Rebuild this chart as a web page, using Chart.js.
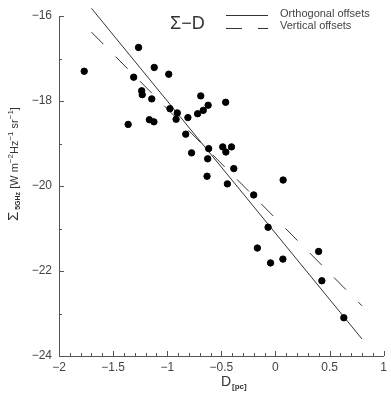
<!DOCTYPE html>
<html>
<head>
<meta charset="utf-8">
<script src="https://cdn.jsdelivr.net/npm/chart.js@4/dist/chart.umd.min.js"></script>
<style>
  body { margin: 0; background: #fff; }
  #wrap { width: 391px; height: 394px; }
</style>
</head>
<body>
<div id="wrap"><canvas id="sigmaChart"></canvas></div>
<script>
// D [pc] (log) and Sigma 5GHz (log)
const dValues = [-1.767, -1.361, -1.310, -1.265, -1.236, -1.231, -1.165, -1.143, -1.123, -1.120,
    -0.986, -0.975, -0.918, -0.907, -0.829, -0.809, -0.775, -0.719, -0.690, -0.667,
    -0.622, -0.626, -0.617, -0.632, -0.487, -0.460, -0.458, -0.406, -0.385, -0.444,
    -0.201, 0.071, -0.167, -0.068, -0.045, 0.069, 0.399, 0.429, 0.632];
const sigmaValues = [-17.30, -18.55, -17.44, -16.74, -17.76, -17.85, -18.44, -17.95, -18.49, -17.21,
    -17.37, -18.18, -18.43, -18.28, -18.78, -18.39, -19.22, -18.30, -17.88, -18.22,
    -18.10, -19.36, -19.12, -19.77, -19.08, -18.03, -19.20, -19.08, -19.59, -19.95,
    -20.21, -19.86, -21.46, -20.97, -21.81, -21.72, -21.54, -22.23, -23.10];

// fitted lines (end points)
const fitX = [-1.7, 0.8];
const orthoY = [-15.82, -23.60];
const vertY = [-16.38, -22.82];

const xTicks = [-2, -1.5, -1, -0.5, 0, 0.5, 1];
const yTicks = [-24, -22, -20, -18, -16];

const legendLabels = ['Orthogonal offsets', 'Vertical offsets'];

function fmt(v) {
    return v < 0 ? '\u2212' + Math.abs(v) : String(v);
}

// inward ticks, legend and axis titles
const decorPlugin = {
    id: 'decor',
    afterDraw(chart) {
        const ctx = chart.ctx;
        const xs = chart.scales.x, ys = chart.scales.y;
        const area = chart.chartArea;
        ctx.save();
        ctx.strokeStyle = '#555';
        ctx.lineWidth = 1;
        ctx.beginPath();
        for (let i = 0; i <= 30; i++) {
            const px = Math.round(xs.getPixelForValue(-2 + i / 10)) + 0.5;
            const len = (i % 5 === 0) ? 5 : 3;
            ctx.moveTo(px, area.bottom);
            ctx.lineTo(px, area.bottom - len);
        }
        for (let v = -24; v <= -16; v++) {
            const py = Math.round(ys.getPixelForValue(v)) + 0.5;
            const len = (v % 2 === 0) ? 5 : 3;
            ctx.moveTo(area.left, py);
            ctx.lineTo(area.left + len, py);
        }
        ctx.stroke();

        // Sigma - D label
        ctx.fillStyle = '#333';
        ctx.textBaseline = 'alphabetic';
        ctx.font = '18px "Liberation Sans"';
        ctx.fillText('\u03A3\u2212D', 170, 29);

        // legend samples
        ctx.strokeStyle = '#333';
        ctx.beginPath();
        ctx.moveTo(226, 15.5);
        ctx.lineTo(268, 15.5);
        ctx.stroke();
        ctx.setLineDash([16, 16]);
        ctx.beginPath();
        ctx.moveTo(226, 28.5);
        ctx.lineTo(268, 28.5);
        ctx.stroke();
        ctx.setLineDash([]);
        ctx.font = '11px "Liberation Sans"';
        ctx.textBaseline = 'middle';
        ctx.fillStyle = '#444';
        ctx.fillText(legendLabels[0], 280, 14);
        ctx.fillText(legendLabels[1], 280, 26);

        // x title
        ctx.textBaseline = 'alphabetic';
        ctx.fillStyle = '#333';
        ctx.font = '14px "Liberation Sans"';
        ctx.fillText('D', 221, 386);
        ctx.font = 'bold 8px "Liberation Sans"';
        ctx.fillText('[pc]', 232, 389);

        // y title, rotated
        ctx.translate(18, 221);
        ctx.rotate(-Math.PI / 2);
        const parts = [
            ['\u03A3', '15px "Liberation Sans"', 0],
            [' 5GHz', 'bold 7px "Liberation Sans"', 1.5],
            [' [W m', '11px "Liberation Sans"', 0],
            ['\u22122', '8px "Liberation Sans"', -5],
            ['Hz', '11px "Liberation Sans"', 0],
            ['\u22121', '8px "Liberation Sans"', -5],
            [' sr', '11px "Liberation Sans"', 0],
            ['\u22121', '8px "Liberation Sans"', -5],
            [']', '11px "Liberation Sans"', 0]
        ];
        let x = 0;
        parts.forEach(p => {
            ctx.font = p[1];
            ctx.fillText(p[0], x, p[2]);
            x += ctx.measureText(p[0]).width;
        });
        ctx.restore();
    }
};

new Chart(document.getElementById('sigmaChart'), {
    type: 'scatter',
    data: {
        datasets: [{
            label: 'data',
            data: dValues.map((d, i) => ({ x: d, y: sigmaValues[i] })),
            backgroundColor: '#000',
            borderColor: '#000',
            pointRadius: 3.2,
            pointHoverRadius: 3.2
        }, {
            label: legendLabels[0],
            type: 'line',
            data: fitX.map((d, i) => ({ x: d, y: orthoY[i] })),
            borderColor: '#333',
            borderWidth: 1,
            pointRadius: 0,
            clip: false
        }, {
            label: legendLabels[1],
            type: 'line',
            data: fitX.map((d, i) => ({ x: d, y: vertY[i] })),
            borderColor: '#333',
            borderWidth: 1,
            borderDash: [17, 17.5],
            pointRadius: 0,
            clip: false
        }]
    },
    options: {
        responsive: true,
        maintainAspectRatio: false,
        animation: false,
        layout: { padding: { top: 16, right: 1, left: 0, bottom: 0 } },
        plugins: {
            legend: { display: false },
            tooltip: { enabled: false }
        },
        scales: {
            x: {
                type: 'linear',
                min: -2,
                max: 1,
                afterBuildTicks: s => { s.ticks = xTicks.map(v => ({ value: v })); },
                afterFit: s => { s.height = 38; },
                grid: { display: false, drawTicks: false },
                border: { display: true, color: '#555', width: 1 },
                ticks: {
                    padding: 4,
                    color: '#444',
                    font: { family: 'Liberation Sans', size: 12 },
                    callback: v => fmt(v),
                    maxRotation: 0
                }
            },
            y: {
                type: 'linear',
                min: -24,
                max: -16,
                afterBuildTicks: s => { s.ticks = yTicks.map(v => ({ value: v })); },
                afterFit: s => { s.width = 59; },
                grid: { display: false, drawTicks: false },
                border: { display: true, color: '#555', width: 1 },
                ticks: {
                    padding: 7,
                    color: '#444',
                    font: { family: 'Liberation Sans', size: 12 },
                    callback: v => fmt(v)
                }
            }
        }
    },
    plugins: [decorPlugin]
});
</script>
</body>
</html>
